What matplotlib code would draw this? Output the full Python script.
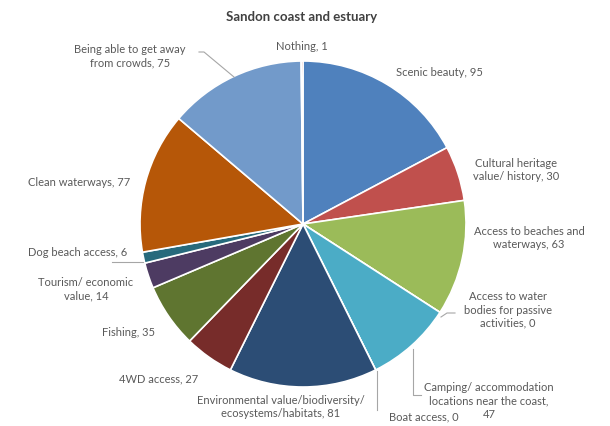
import matplotlib
matplotlib.use("Agg")
import matplotlib.pyplot as plt

# Survey responses: what people value about the Sandon coast and estuary
categories = [
    "Scenic beauty",
    "Cultural heritage\nvalue/ history",
    "Access to beaches and\nwaterways",
    "Access to water\nbodies for passive\nactivities",
    "Camping/ accommodation\nlocations near the coast",
    "Boat access",
    "Environmental value/biodiversity/\necosystems/habitats",
    "4WD access",
    "Fishing",
    "Tourism/ economic\nvalue",
    "Dog beach access",
    "Clean waterways",
    "Being able to get away\nfrom crowds",
    "Nothing",
]
counts = [95, 30, 63, 0, 47, 0, 81, 27, 35, 14, 6, 77, 75, 1]

colors = [
    "#4F81BD", "#C0504D", "#9BBB59", "#8064A2", "#4BACC6", "#F79646",
    "#2C4D75", "#772C2A", "#5F7530", "#4D3B62", "#276A7C", "#B65708",
    "#729ACA", "#CD7371",
]

# ---- layout (pixels in a 610 x 426 canvas) ----
W, H = 610, 426
CX, CY, R = 303, 224, 163

def to_data(px, py):
    return (px - CX) / R, (CY - py) / R

# label centres and separators between name and count
label_pos = [
    (439, 73), (516, 170), (529, 238), (508, 310), (489, 401), (424, 417),
    (281, 407), (159, 379), (129, 333), (86, 289), (78, 252), (79, 182),
    (130, 56), (302, 47),
]
label_sep = [", "] * len(categories)
label_sep[4] = ",\n"

# leader lines (pixel polylines)
leaders = [
    [(199, 52), (204, 52), (234, 77)],          # get away from crowds
    [(112, 262), (143, 262)],                   # dog beach access
    [(441, 317), (447, 313), (455, 313)],       # water bodies
    [(413, 349), (413, 395), (421, 395)],       # camping
    [(377, 371), (377, 410)],                   # boat access
]

text_color = "#595959"
font = ["Lato", "DejaVu Sans"]

fig = plt.figure(figsize=(W / 100, H / 100), dpi=100)
fig.patch.set_facecolor("white")
ax = fig.add_axes([(CX - R) / W, (H - CY - R) / H, 2 * R / W, 2 * R / H])

ax.pie(
    counts,
    colors=colors,
    startangle=90,
    counterclock=False,
    radius=1.0,
    wedgeprops=dict(edgecolor="white", linewidth=1.2),
)
ax.set_xlim(-1, 1)
ax.set_ylim(-1, 1)
ax.set_aspect("equal")
ax.set_axis_off()

for name, val, sep, (px, py) in zip(categories, counts, label_sep, label_pos):
    x, y = to_data(px, py)
    ax.text(x, y, f"{name}{sep}{val}", ha="center", va="center",
            fontsize=8.0, color=text_color, family=font,
            linespacing=1.25, clip_on=False)

for pts in leaders:
    xs, ys = zip(*[to_data(px, py) for px, py in pts])
    ax.plot(xs, ys, color="#A6A6A6", linewidth=0.8, clip_on=False)

fig.text(302 / W, 1 - 17 / H, "Sandon coast and estuary", ha="center",
         va="center", fontsize=9.5, fontweight="bold", color="#404040",
         family=font)

fig.savefig("out.png", dpi=100, facecolor="white")
